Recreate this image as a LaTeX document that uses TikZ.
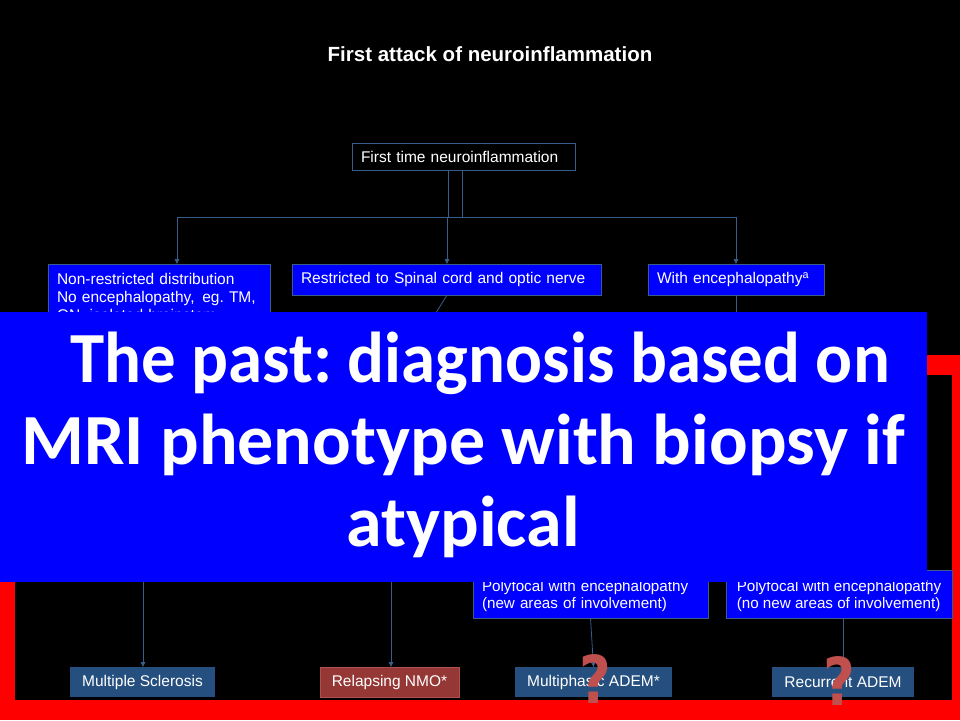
\documentclass[tikz,border=0pt]{standalone}
\usepackage{fontspec}
\setmainfont{Liberation Sans}
\newfontfamily\bannerfont{Carlito}
\newfontfamily\qfont{DejaVu Sans}
\usetikzlibrary{arrows.meta}
\definecolor{linec}{HTML}{385D8A}
\definecolor{boxblue}{HTML}{0000FF}
\definecolor{steel}{HTML}{254F7E}
\definecolor{nmored}{HTML}{953735}
\definecolor{nmoedge}{HTML}{B0504D}
\definecolor{qred}{HTML}{C0504D}
\definecolor{framered}{HTML}{FF0000}
\frenchspacing
\begin{document}
\frenchspacing
\begin{tikzpicture}[x=1pt,y=-1pt,
  every node/.style={inner sep=0pt,outer sep=0pt},
  conn/.style={draw=linec,line width=0.8pt},
  arr/.style={conn,-{Triangle[width=4.5pt,length=5pt]}},
  boxtxt/.style={text=white,font=\fontsize{15.5}{17}\selectfont,align=left,inner xsep=9pt},
  bluebox/.style={boxtxt,draw=linec,fill=boxblue,line width=0.8pt},
  polybox/.style={bluebox,font=\fontsize{15.2}{16.5}\selectfont,anchor=south west,inner xsep=9pt,inner ysep=6.5pt},
  darkbox/.style={boxtxt,draw=linec,fill=black,line width=0.8pt},
  endbox/.style={boxtxt,fill=steel,minimum height=30pt,anchor=north west},
  nmobox/.style={boxtxt,fill=nmored,draw=nmoedge,line width=0.8pt,minimum height=30pt,anchor=north west},
  qmark/.style={text=qred,font=\qfont\bfseries\fontsize{66}{66}\selectfont,xscale=0.83,anchor=base},
  bannertxt/.style={text=white,font=\bannerfont\bfseries\fontsize{72}{82}\selectfont,anchor=base}
]
% background and red frame
\path[fill=black] (0,0) rectangle (960,720);
\useasboundingbox (0,0) rectangle (960,720);
\fill[framered] (0,355) rectangle (960,720);
\fill[black] (15,375) rectangle (952,700);

% title
\node[text=white,font=\fontsize{20.5}{24}\selectfont\bfseries,anchor=base] (title) at (490,61) {First attack of neuroinflammation};

% first box
\node[darkbox,anchor=north west,minimum width=223pt,minimum height=27pt,text width=205pt] (top) at (352,143) {First time neuroinflammation};

% second row
\node[bluebox,font=\fontsize{15.5}{18}\selectfont,anchor=north west,minimum width=222pt,text width=204pt,inner ysep=9pt] (A) at (48,264)
  {Non-restricted distribution\\No encephalopathy,\, eg. TM,\\ON, isolated brainstem};
\node[bluebox,anchor=north west,minimum width=309pt,minimum height=31pt,text width=291pt] (B) at (292,264)
  {Restricted to Spinal cord and optic nerve};
\node[bluebox,anchor=north west,minimum width=176pt,minimum height=31pt,text width=158pt] (C) at (648,264)
  {With encephalopathy\textsuperscript{a}};

% connectors from top box
\coordinate (j1) at (448,217);
\coordinate (j2) at (462,217);
\coordinate (hl) at (177,217);
\coordinate (hr) at (736,217);
\draw[conn] (top.south -| j1) -- (j1);
\draw[conn] (top.south -| j2) -- (j2);
\draw[conn] (hl) -- (hr);
\draw[arr] (hl) -- (hl |- A.north);
\draw[arr] (hl -| 447,0) -- (B.north -| 447,0);
\draw[arr] (hr) -- (hr |- C.north);

% lines into the hidden area
\coordinate (bh) at (413,350);
\coordinate (ch) at (736,350);
\draw[conn] (B.south -| 447,0) -- (bh);
\draw[conn] (C.south -| ch) -- (ch);

% third row (partly hidden)
\node[polybox,minimum width=235pt,text width=217pt] (D) at (473,618)
  {\rule{0pt}{15pt}Polyfocal with encephalopathy\\(new areas of involvement)};
\node[polybox,minimum width=226pt] (E) at (726,618)
  {\rule{0pt}{15pt}Polyfocal with encephalopathy\\(no new areas of involvement)};

% end boxes
\node[endbox,minimum width=145pt] (ms) at (70,667) {Multiple Sclerosis};
\node[nmobox,minimum width=139pt] (nmo) at (320,667) {Relapsing NMO*};
\node[endbox,minimum width=157pt] (madem) at (515,667) {Multiphasic ADEM*};
\node[endbox,minimum width=142pt] (radem) at (772,667) {Recurrent ADEM};

% arrows to end boxes
\coordinate (msh) at (143,560);
\coordinate (nmoh) at (391,560);
\draw[arr] (msh) -- (msh |- ms.north);
\draw[arr] (nmoh) -- (nmoh |- nmo.north);
\draw[arr] (D.south) -- (madem.north);
\draw[arr] (E.south -| radem.north) -- (radem.north);

% banner
\node[fill=boxblue,anchor=north west,minimum width=927pt,minimum height=270pt] (banner) at (0,312) {};
\node[bannertxt,xscale=0.957] (b1) at (480,382) {The past: diagnosis based on};
\node[bannertxt] (b2) at (463,464) {MRI phenotype with biopsy if};
\node[bannertxt] (b3) at (463,546) {atypical};

% question marks
\node[qmark] (q1) at (595,703) {?};
\node[qmark] (q2) at (839,705) {?};
\end{tikzpicture}
\end{document}
